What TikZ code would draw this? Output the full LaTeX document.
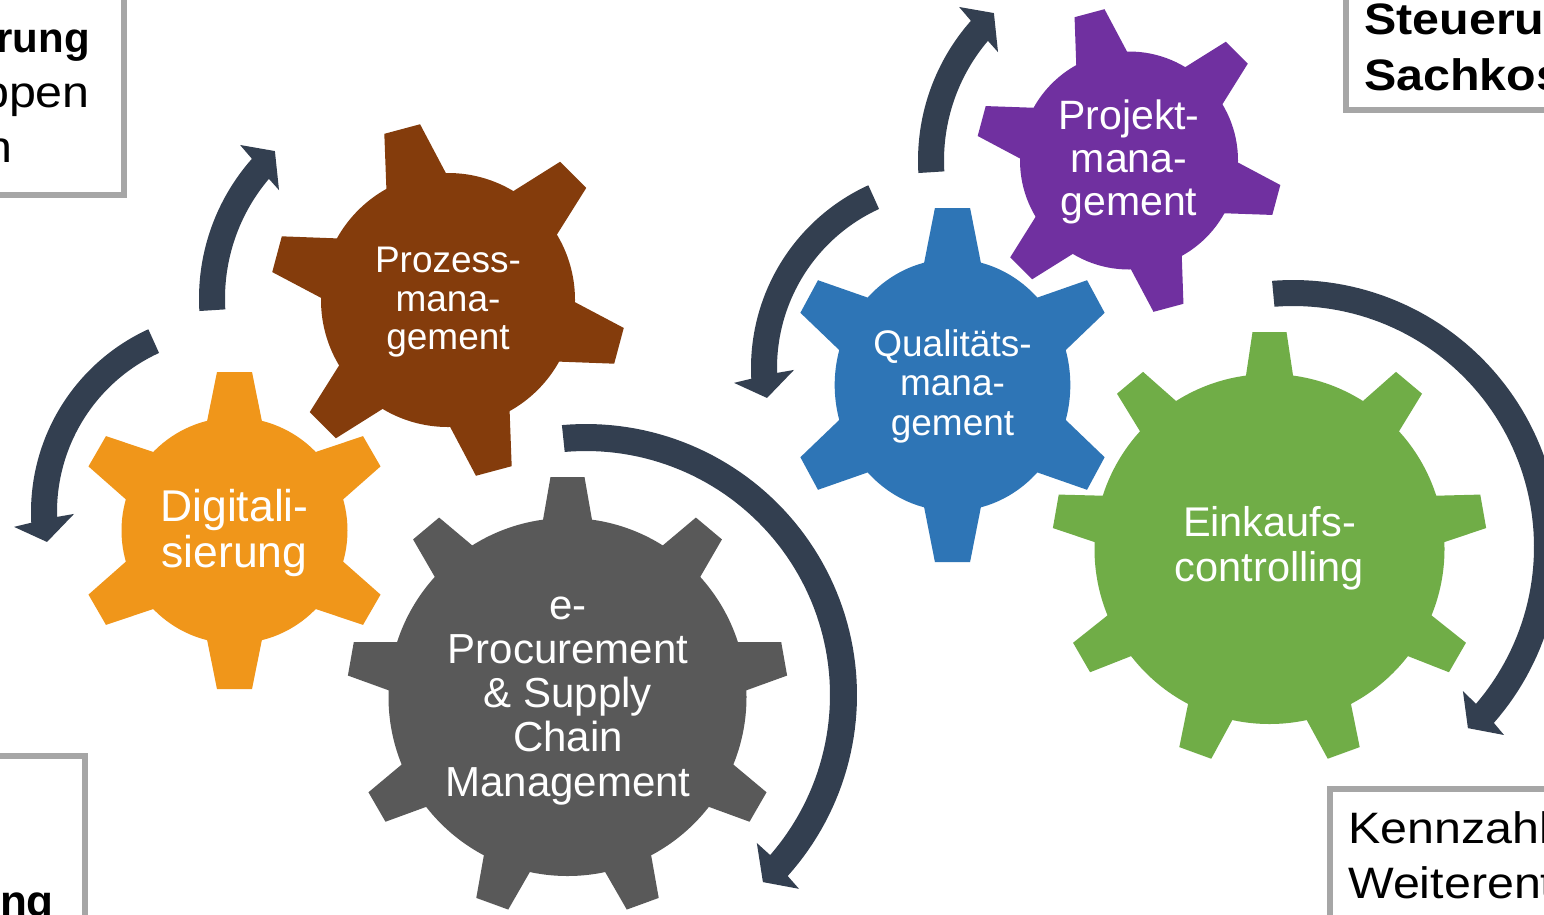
\documentclass[tikz,border=0pt]{standalone}
\usepackage{fontspec}
\setmainfont{Liberation Sans}
\newfontfamily\boxfont[FakeStretch=1.1]{Liberation Sans}
\definecolor{brownG}{HTML}{843C0C}
\definecolor{orangeG}{HTML}{F0961A}
\definecolor{grayG}{HTML}{595959}
\definecolor{purpleG}{HTML}{7030A0}
\definecolor{blueG}{HTML}{2E75B6}
\definecolor{greenG}{HTML}{70AD47}
\definecolor{arrowC}{HTML}{333F50}
\definecolor{boxC}{HTML}{A6A6A6}
\tikzset{
  gtext/.style={text=white, align=center, inner sep=0pt},
  boxline/.style={draw=boxC, line width=6pt},
  btext/.style={inner sep=0pt, text=black},
  arrowfill/.style={fill=arrowC},
}
% gear: #1 cx, #2 cy, #3 r, #4 R, #5 n, #6 offset, #7 wb, #8 wt, #9 colour; x-scale in \gsx
\def\gsx{1}
\newcommand\drawgear[9]{%
  \pgfmathsetmacro\grx{\gsx*#3}%
  \fill[#9] (#1,#2) ellipse [x radius=\grx pt, y radius=#3pt];
  \pgfmathsetmacro\gdb{(#3)*sqrt(1-((#7)/(#3))^2)-3}%
  \foreach \k in {1,...,#5}{%
    \pgfmathsetmacro\ga{#6+360/#5*(\k-1)}%
    \fill[#9] ({#1+\gsx*(\gdb*cos(\ga)-(#7)*sin(\ga))},{#2-(\gdb*sin(\ga)+(#7)*cos(\ga))})
      -- ({#1+\gsx*(#4*cos(\ga)-(#8)*sin(\ga))},{#2-(#4*sin(\ga)+(#8)*cos(\ga))})
      -- ({#1+\gsx*(#4*cos(\ga)+(#8)*sin(\ga))},{#2-(#4*sin(\ga)-(#8)*cos(\ga))})
      -- ({#1+\gsx*(\gdb*cos(\ga)+(#7)*sin(\ga))},{#2-(\gdb*sin(\ga)-(#7)*cos(\ga))}) -- cycle;
  }%
}
% circular arrow, parameters in macros
\newcommand\drawcarrow{%
  \fill[arrowfill]
    plot[domain=0:1,samples=80] ({\aCX+\aRO*cos(\aTA+(\aNO-\aTA)*\x)},{\aCY-\aRO*sin(\aTA+(\aNO-\aTA)*\x)})
    -- ({\aCX+\aBOr*cos(\aBOa)},{\aCY-\aBOr*sin(\aBOa)})
    -- ({\aCX+\aTIPr*cos(\aTIPa)},{\aCY-\aTIPr*sin(\aTIPa)})
    -- ({\aCX+\aBIr*cos(\aBIa)},{\aCY-\aBIr*sin(\aBIa)})
    -- plot[domain=0:1,samples=80] ({\aCX+\aRI*cos(\aNI+(\aTA-\aNI)*\x)},{\aCY-\aRI*sin(\aNI+(\aTA-\aNI)*\x)})
    -- cycle;
}
\newcommand\smallarrowparams{%
  \def\aRO{211}\def\aRI{185}\def\aTA{183.4}\def\aNO{138.5}\def\aNI{139.7}%
  \def\aBOa{137.9}\def\aBOr{229}\def\aTIPa{132.5}\def\aTIPr{200}\def\aBIa{140.4}\def\aBIr{170}}
\newcommand\midarrowparams{%
  \def\aRO{201}\def\aRI{175}\def\aTA{114.6}\def\aNO{183.1}\def\aNI{181.6}%
  \def\aBOa{183.9}\def\aBOr{218.5}\def\aTIPa{189.2}\def\aTIPr{187.4}\def\aBIa{180.7}\def\aBIr{158}}
\begin{document}
\begin{tikzpicture}[x=1pt,y=-1pt]
\useasboundingbox (0,0) rectangle (1544,914);
\clip (0,0) rectangle (1544,914);
\fill[white] (0,0) rectangle (1544,914);

% text boxes (cut by the picture edge)
\draw[boxline] (-60,-60) rectangle (123.5,195);
\draw[boxline] (1346,-60) rectangle (1620,109.5);
\draw[boxline] (1330,788.5) rectangle (1620,990);
\draw[boxline] (-60,755.5) rectangle (84.5,990);

\node[btext, anchor=base east, font=\bfseries\fontsize{42}{52}\selectfont] (tl1) at (90,52) {rung};
\node[btext, anchor=base east, font=\boxfont\fontsize{44}{52}\selectfont] (tl2) at (90,107) {ppen};
\node[btext, anchor=base east, font=\boxfont\fontsize{44}{52}\selectfont] (tl3) at (13,162) {n};
\node[btext, anchor=base west, font=\boxfont\bfseries\fontsize{44}{52}\selectfont] (tr1) at (1364,34) {Steueru};
\node[btext, anchor=base west, font=\boxfont\bfseries\fontsize{44}{52}\selectfont] (tr2) at (1364,90) {Sachkos};
\node[btext, anchor=base west, font=\boxfont\fontsize{44}{52}\selectfont] (br1) at (1348,843) {Kennzahl};
\node[btext, anchor=base west, font=\boxfont\fontsize{44}{52}\selectfont] (br2) at (1348,898) {Weiterent};
\node[btext, anchor=base east, font=\bfseries\fontsize{44}{52}\selectfont] (bl1) at (54,916) {ng};

% gears
\drawgear{448}{300}{127}{177}{6}{105}{31.5}{18.5}{brownG}
\drawgear{234.5}{530.5}{113}{158.5}{6}{90}{28}{17.5}{orangeG}
\drawgear{567.5}{697}{179}{220}{9}{90}{25}{17}{grayG}
\drawgear{1129}{160.5}{109}{152.5}{6}{105}{27}{15.5}{purpleG}
\def\gsx{0.935}
\drawgear{952.5}{385}{126}{177}{6}{90}{31}{18.8}{blueG}
\def\gsx{1}
\drawgear{1269.5}{549}{175}{217}{9}{90}{24}{17}{greenG}

% circular arrows
\smallarrowparams\def\aCX{410}\def\aCY{298.5}\drawcarrow
\smallarrowparams\def\aCX{1129}\def\aCY{160.5}\drawcarrow
\midarrowparams\def\aCX{232}\def\aCY{512}\drawcarrow
\midarrowparams\def\aCX{952}\def\aCY{368}\drawcarrow
\def\aCX{586}\def\aCY{695}\def\aRO{271}\def\aRI{244}\def\aTA{95.1}\def\aNO{-42}\def\aNI{-41}%
\def\aBOa{-42.3}\def\aBOr{288}\def\aTIPa{-46.6}\def\aTIPr{257.5}\def\aBIa{-40.9}\def\aBIr{226}\drawcarrow
\def\aCX{1293}\def\aCY{547}\def\aRO{267}\def\aRI{241}\def\aTA{94.5}\def\aNO{-41.3}\def\aNI{-40.6}%
\def\aBOa{-41.7}\def\aBOr{282.6}\def\aTIPa{-46}\def\aTIPr{251.8}\def\aBIa{-40.3}\def\aBIr{222.8}\drawcarrow

% gear labels
\node[gtext, font=\fontsize{37}{38.5}\selectfont] (prozess) at (448,302.5) {Prozess-\\mana-\\gement};
\node[gtext, font=\fontsize{44.5}{46}\selectfont] (digital) at (234.5,532.7) {Digitali-\\sierung};
\node[gtext, font=\fontsize{42}{44.25}\selectfont] (eproc) at (568,700.7) {e-\\Procurement\\\& Supply\\Chain\\Management};
\node[gtext, font=\fontsize{41}{43}\selectfont] (projekt) at (1129,161.9) {Projekt-\\mana-\\gement};
\node[gtext, font=\fontsize{37}{39.3}\selectfont] (quali) at (952.5,386.4) {Qualitäts-\\mana-\\gement};
\node[gtext, font=\fontsize{41.5}{45}\selectfont] (einkauf) at (1269.5,548.5) {Einkaufs-\\controlling};
\end{tikzpicture}
\end{document}
